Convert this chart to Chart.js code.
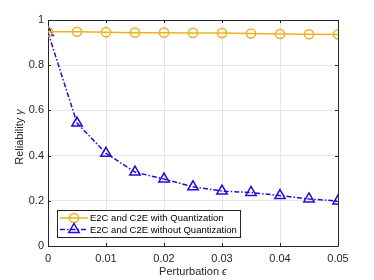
<!DOCTYPE html>
<html>
<head>
<meta charset="utf-8">
<script src="https://cdn.jsdelivr.net/npm/chart.js@4/dist/chart.umd.min.js"></script>
<style>
html,body{margin:0;padding:0;background:#fff;}
#c{display:block;}
</style>
</head>
<body>
<canvas id="c" width="374" height="280"></canvas>
<script>
const epsilon = [0, 0.005, 0.01, 0.015, 0.02, 0.025, 0.03, 0.035, 0.04, 0.045, 0.05];
const withQuant = [0.948, 0.948, 0.946, 0.944, 0.944, 0.943, 0.942, 0.940, 0.938, 0.937, 0.936];
const withoutQuant = [0.945, 0.544, 0.410, 0.327, 0.296, 0.262, 0.243, 0.237, 0.223, 0.208, 0.199];
const xTicks = [0, 0.01, 0.02, 0.03, 0.04, 0.05];
const yTicks = [0, 0.2, 0.4, 0.6, 0.8, 1];
const seriesNames = ['E2C and C2E with Quantization', 'E2C and C2E without Quantization'];
const xTitle = 'Perturbation ';
const xSym = 'ϵ';
const yTitle = 'Reliability ';
const ySym = 'γ';

const ORANGE = '#EDB120';
const BLUE = '#2a0ad8';
const DASH = [5, 2, 1.5, 2];
const FONT = '"Liberation Sans", Arial, Helvetica, sans-serif';
const TXT = '#262626';

function drawTri(ctx, x, y, r) {
  ctx.moveTo(x, y - r);
  ctx.lineTo(x + r * 0.866, y + r * 0.5);
  ctx.lineTo(x - r * 0.866, y + r * 0.5);
  ctx.closePath();
}

const framePlugin = {
  id: 'frame',
  beforeDatasetsDraw(chart) {
    const {ctx, chartArea: a, scales} = chart;
    ctx.save();
    ctx.strokeStyle = '#262626';
    ctx.lineWidth = 1;
    ctx.beginPath();
    ctx.rect(Math.round(a.left) + 0.5, Math.round(a.top) + 0.5, Math.round(a.right - a.left), Math.round(a.bottom - a.top));
    ctx.stroke();
    ctx.beginPath();
    xTicks.forEach(v => {
      const x = Math.round(scales.x.getPixelForValue(v)) + 0.5;
      ctx.moveTo(x, a.bottom); ctx.lineTo(x, a.bottom - 3);
      ctx.moveTo(x, a.top); ctx.lineTo(x, a.top + 3);
    });
    yTicks.forEach(v => {
      const y = Math.round(scales.y.getPixelForValue(v)) + 0.5;
      ctx.moveTo(a.left, y); ctx.lineTo(a.left + 3, y);
      ctx.moveTo(a.right, y); ctx.lineTo(a.right - 3, y);
    });
    ctx.stroke();
    ctx.restore();
  },
  afterDraw(chart) {
    const {ctx, chartArea: a} = chart;
    ctx.save();
    ctx.fillStyle = TXT;
    ctx.textBaseline = 'middle';
    ctx.font = '11px ' + FONT;
    const w1 = ctx.measureText(xTitle).width;
    ctx.font = 'italic 11px ' + FONT;
    const w2 = ctx.measureText(xSym).width;
    let cx = (a.left + a.right) / 2 - (w1 + w2) / 2;
    ctx.textAlign = 'left';
    ctx.font = '11px ' + FONT;
    ctx.fillText(xTitle, cx, 272);
    ctx.font = 'italic 11px ' + FONT;
    ctx.fillText(xSym, cx + w1, 272);

    ctx.save();
    ctx.translate(20, (a.top + a.bottom) / 2 + 4);
    ctx.rotate(-Math.PI / 2);
    ctx.font = '11px ' + FONT;
    const h1 = ctx.measureText(yTitle).width;
    ctx.font = 'italic 11px ' + FONT;
    const h2 = ctx.measureText(ySym).width;
    let sx = -(h1 + h2) / 2;
    ctx.font = '11px ' + FONT;
    ctx.fillText(yTitle, sx, 0);
    ctx.font = 'italic 11px ' + FONT;
    ctx.fillText(ySym, sx + h1, 0);
    ctx.restore();

    // legend
    const lx = 57.5, ly = 210.5, lw = 183, lh = 27;
    ctx.fillStyle = '#fff';
    ctx.fillRect(lx, ly, lw, lh);
    ctx.strokeStyle = '#262626';
    ctx.lineWidth = 1;
    ctx.strokeRect(lx, ly, lw, lh);
    const rows = [ly + 7.5, ly + 19];
    chart.data.datasets.forEach((ds, i) => {
      const y = rows[i];
      ctx.save();
      ctx.strokeStyle = ds.borderColor;
      ctx.lineWidth = ds.borderWidth;
      ctx.setLineDash(ds.borderDash || []);
      ctx.beginPath();
      ctx.moveTo(60, y); ctx.lineTo(88, y);
      ctx.stroke();
      ctx.setLineDash([]);
      ctx.lineWidth = ds.pointBorderWidth;
      ctx.strokeStyle = ds.pointBorderColor;
      ctx.beginPath();
      if (ds.pointStyle === 'circle') {
        ctx.arc(74, y, ds.pointRadius, 0, Math.PI * 2);
      } else {
        drawTri(ctx, 74, y, ds.pointRadius);
      }
      ctx.stroke();
      ctx.restore();
      ctx.fillStyle = '#000';
      ctx.font = '9.5px ' + FONT;
      ctx.textAlign = 'left';
      ctx.textBaseline = 'middle';
      ctx.fillText(ds.label, 90, y + 0.5);
    });
    ctx.restore();
  }
};

new Chart(document.getElementById('c'), {
  type: 'line',
  data: {
    datasets: [
      {
        label: seriesNames[0],
        data: epsilon.map((x, i) => ({x, y: withQuant[i]})),
        borderColor: ORANGE,
        backgroundColor: 'rgba(0,0,0,0)',
        borderWidth: 1.5,
        pointStyle: 'circle',
        pointRadius: 4.6,
        pointBorderWidth: 1.5,
        pointBorderColor: ORANGE,
        pointBackgroundColor: 'rgba(0,0,0,0)',
        tension: 0
      },
      {
        label: seriesNames[1],
        data: epsilon.map((x, i) => ({x, y: withoutQuant[i]})),
        borderColor: BLUE,
        backgroundColor: 'rgba(0,0,0,0)',
        borderWidth: 1.5,
        borderDash: DASH,
        pointStyle: 'triangle',
        pointRadius: 6,
        pointBorderWidth: 1.5,
        pointBorderColor: BLUE,
        pointBackgroundColor: 'rgba(0,0,0,0)',
        tension: 0
      }
    ]
  },
  options: {
    responsive: false,
    animation: false,
    devicePixelRatio: 1,
    layout: {padding: {top: 20, right: 36, left: 0, bottom: 0}},
    plugins: {legend: {display: false}, tooltip: {enabled: false}},
    elements: {line: {borderCapStyle: 'butt'}},
    scales: {
      x: {
        type: 'linear', min: 0, max: 0.05,
        afterFit(s) { s.height = 34; },
        afterBuildTicks(s) { s.ticks = xTicks.map(v => ({value: v})); },
        grid: {color: '#e5e5e5', lineWidth: 1, drawTicks: false},
        border: {display: false},
        ticks: {
          color: TXT, padding: 6,
          font: {family: FONT, size: 11},
          callback: v => String(v)
        }
      },
      y: {
        type: 'linear', min: 0, max: 1,
        afterFit(s) { s.width = 48; },
        afterBuildTicks(s) { s.ticks = yTicks.map(v => ({value: v})); },
        grid: {color: '#e5e5e5', lineWidth: 1, drawTicks: false},
        border: {display: false},
        ticks: {
          color: TXT, padding: 4,
          font: {family: FONT, size: 11},
          callback: v => String(v)
        }
      }
    }
  },
  plugins: [framePlugin]
});
</script>
</body>
</html>
